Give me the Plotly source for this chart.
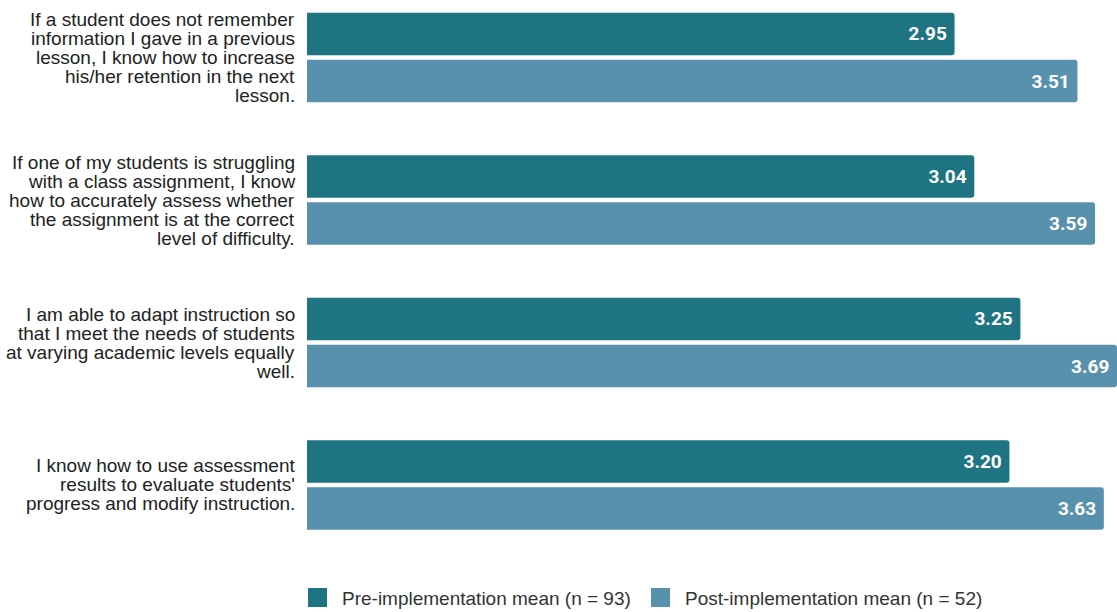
import plotly.graph_objects as go

# Survey statements (line breaks kept as in the printed labels)
statements = [
    "If a student does not remember<br>information I gave in a previous<br>lesson, I know how to increase<br>his/her retention in the next<br>lesson.",
    "If one of my students is struggling<br>with a class assignment, I know<br>how to accurately assess whether<br>the assignment is at the correct<br>level of difficulty.",
    "I am able to adapt instruction so<br>that I meet the needs of students<br>at varying academic levels equally<br>well.",
    "I know how to use assessment<br>results to evaluate students'<br>progress and modify instruction.",
]
pre_mean = [2.95, 3.04, 3.25, 3.20]
post_mean = [3.51, 3.59, 3.69, 3.63]
series_names = ["Pre-implementation mean (n = 93)", "Post-implementation mean (n = 52)"]
series_colors = ["#1E7482", "#5891AE"]

W, H = 1117, 612
M_L, M_R, M_T, M_B = 307, 0, 0, 67
PLOT_W = W - M_L - M_R
PLOT_H = H - M_T - M_B


def paper_x(px):
    return (px - M_L) / PLOT_W


def paper_y(py):
    return (H - M_B - py) / PLOT_H


fig = go.Figure()
for name, vals, col in zip(series_names, [pre_mean, post_mean], series_colors):
    fig.add_trace(go.Bar(
        y=statements,
        x=vals,
        orientation="h",
        name=name,
        marker=dict(color=col, line=dict(width=0), cornerradius=3),
        text=[f"{v:.2f}\u00a0" for v in vals],
        textposition="inside",
        insidetextanchor="end",
        textfont=dict(family="Roboto", size=19, color="white", weight="bold"),
        showlegend=False,
        hoverinfo="skip",
    ))

annotations = []
# Category labels, one annotation per line for tight line spacing
LINE_H = 19
for cat in statements:
    lines = cat.split("<br>")
    n = len(lines)
    for i, ln in enumerate(lines):
        annotations.append(dict(
            xref="paper", yref="y", x=0, y=cat,
            text=ln, showarrow=False,
            xanchor="right", yanchor="middle",
            xshift=-10, yshift=((n - 1) / 2 - i) * LINE_H,
            font=dict(family="Liberation Sans, Arial, sans-serif", size=19, color="#222222"),
        ))

# Legend drawn as swatches + labels
shapes = []
legend_items = [(308, 340), (651, 683)]
for (sx, tx), name, col in zip(legend_items, series_names, series_colors):
    shapes.append(dict(
        type="rect", xref="paper", yref="paper",
        x0=paper_x(sx), x1=paper_x(sx + 19),
        y0=paper_y(607), y1=paper_y(588),
        fillcolor=col, line=dict(width=0), layer="above",
    ))
    annotations.append(dict(
        xref="paper", yref="paper", x=paper_x(tx), y=paper_y(598),
        text=name, showarrow=False, xanchor="left", yanchor="middle",
        font=dict(family="Liberation Sans, Arial, sans-serif", size=19, color="#333333"),
    ))

fig.update_layout(
    width=W, height=H,
    margin=dict(l=M_L, r=M_R, t=M_T, b=M_B, pad=0),
    paper_bgcolor="white", plot_bgcolor="white",
    barmode="group", bargap=0.34, bargroupgap=0.1,
    xaxis=dict(range=[0, 3.69], showgrid=False, zeroline=False,
               showticklabels=False, ticks="", showline=False),
    yaxis=dict(type="category", categoryorder="array", categoryarray=statements,
               range=[3.4211, -0.4035], showgrid=False, zeroline=False,
               showticklabels=False, ticks="", showline=False),
    annotations=annotations,
    shapes=shapes,
    uniformtext=dict(mode=False),
)

fig.write_html("out.html")
